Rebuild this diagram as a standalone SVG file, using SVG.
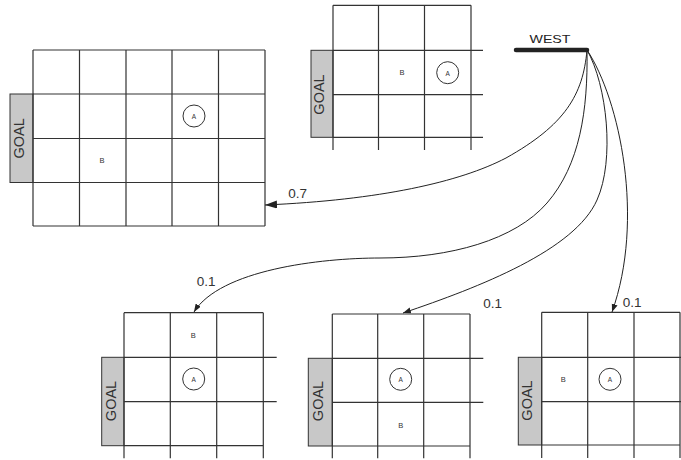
<svg xmlns="http://www.w3.org/2000/svg" width="681" height="460" viewBox="0 0 681 460">
<style>
.g{stroke:#333;stroke-width:1.2;fill:none}
.goal{fill:#c8c8c8;stroke:#333;stroke-width:1}
.gt{font-family:"Liberation Sans",Arial,sans-serif;font-size:14.5px;fill:#333;text-anchor:middle}
.lb{font-family:"Liberation Sans",Arial,sans-serif;font-size:7.5px;fill:#333;text-anchor:middle}
.ci{fill:none;stroke:#333;stroke-width:1}
.pr{font-family:"Liberation Sans",Arial,sans-serif;font-size:13.5px;fill:#333}
.c{fill:none;stroke:#222;stroke-width:1}
</style>
<defs>
<marker id="ah" markerUnits="userSpaceOnUse" markerWidth="10" markerHeight="8" refX="8" refY="3" orient="auto" viewBox="0 0 10 8"><path d="M0,0 L8,3 L0,6 Z" fill="#222"/></marker>
<marker id="ahb" markerUnits="userSpaceOnUse" markerWidth="14" markerHeight="10" refX="12" refY="4" orient="auto" viewBox="0 0 14 10"><path d="M0,0 L12,4 L0,8 Z" fill="#222"/></marker>
</defs>

<g id="grid-top-left">
<rect class="goal" x="10" y="94" width="23" height="88.5"/>
<text class="gt" transform="translate(24,138.3) rotate(-90)">GOAL</text>
<path class="g" d="M33,50H265M33,94H265M33,138.5H265M33,182.5H265M33,226H265M33,50V226M79.5,50V226M126,50V226M172,50V226M218.5,50V226M265,50V226"/>
<circle class="ci" cx="194" cy="116" r="11"/>
<text class="lb" x="194" y="118.8" style="font-size:6.5px">A</text>
<text class="lb" x="102" y="162.7">B</text>
</g>

<g id="grid-top-middle">
<rect class="goal" x="311" y="50.3" width="22" height="87"/>
<text class="gt" transform="translate(324,94.5) rotate(-90)">GOAL</text>
<path class="g" d="M333,5.3H471M333,50.3H483M333,94.7H483M333,137.3H483M333,5.3V150M378.5,5.3V150M424.5,5.3V150M471,5.3V150"/>
<circle class="ci" cx="447.7" cy="72.7" r="11"/>
<text class="lb" x="447.7" y="75.5" style="font-size:6.5px">A</text>
<text class="lb" x="402" y="75.4">B</text>
</g>

<g id="west">
<line x1="516" y1="50" x2="587" y2="50" stroke="#222" stroke-width="4.5" stroke-linecap="round"/>
<text x="550" y="42.7" text-anchor="middle" font-family="Liberation Sans, Arial, sans-serif" font-size="11.5" fill="#222" textLength="41" lengthAdjust="spacingAndGlyphs">WEST</text>
</g>

<g id="grid-bottom-left">
<rect class="goal" x="101.7" y="357.3" width="22.3" height="88.4"/>
<text class="gt" transform="translate(115.7,401) rotate(-90)">GOAL</text>
<path class="g" d="M124,312.7H263.3M124,357.3H276.7M124,401.7H276.7M124,445.7H263.3M124,312.7V458.3M170.3,312.7V458.3M216.7,312.7V458.3M263.3,312.7V458.3"/>
<circle class="ci" cx="193.7" cy="379" r="11"/>
<text class="lb" x="193.7" y="381.8" style="font-size:6.5px">A</text>
<text class="lb" x="193.3" y="337.7">B</text>
</g>

<g id="grid-bottom-middle">
<rect class="goal" x="308.3" y="358.3" width="24" height="87.7"/>
<text class="gt" transform="translate(323.3,401) rotate(-90)">GOAL</text>
<path class="g" d="M332.3,314H470M332.3,358.3H483.3M332.3,402.3H483.3M332.3,446H470M332.3,314V458.3M377.7,314V458.3M423.7,314V458.3M470,314V458.3"/>
<circle class="ci" cx="400.7" cy="379.3" r="11"/>
<text class="lb" x="400.7" y="382.1" style="font-size:6.5px">A</text>
<text class="lb" x="400.7" y="427.7">B</text>
</g>

<g id="grid-bottom-right">
<rect class="goal" x="518.3" y="357.3" width="23.4" height="87.7"/>
<text class="gt" transform="translate(532.3,400.5) rotate(-90)">GOAL</text>
<path class="g" d="M541.7,312.3H680M541.7,357.3H681M541.7,401.7H681M541.7,445H680M541.7,312.3V458M587.7,312.3V458M634,312.3V458M680,312.3V458"/>
<circle class="ci" cx="610" cy="379.3" r="11"/>
<text class="lb" x="610" y="382.1" style="font-size:6.5px">A</text>
<text class="lb" x="563.3" y="382">B</text>
</g>

<g id="connectors">
<path class="c" d="M587,50 C583,95 565,125 506,158 C460,182 380,200 265,205" marker-end="url(#ahb)"/>
<path class="c" d="M587,50 C588,110 580,165 547,203 C515,240 450,258 380,258 C320,258 220,270 194,312" marker-end="url(#ah)"/>
<path class="c" d="M587,50 C607,85 615,160 597,200 C575,250 480,287 403,313" marker-end="url(#ah)"/>
<path class="c" d="M587,50 C620,100 645,220 612,312" marker-end="url(#ah)"/>
<text class="pr" x="288.3" y="198.3">0.7</text>
<text class="pr" x="196.7" y="286">0.1</text>
<text class="pr" x="483.3" y="307.7">0.1</text>
<text class="pr" x="622.7" y="307.3">0.1</text>
</g>
</svg>
